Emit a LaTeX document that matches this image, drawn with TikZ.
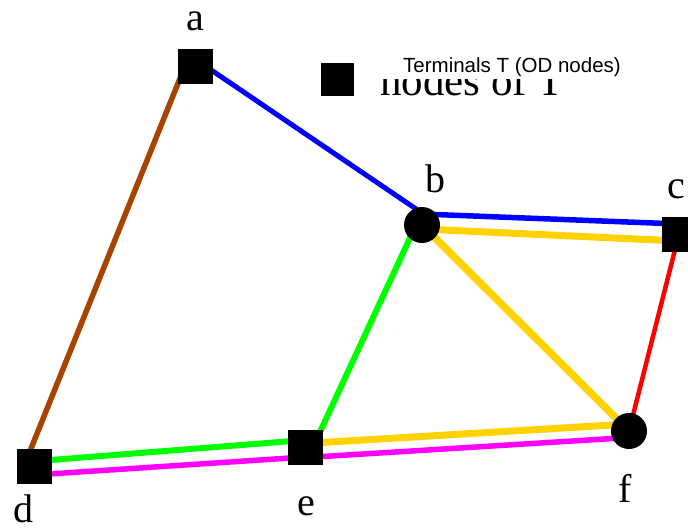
\documentclass[tikz,border=0pt]{standalone}
\usepackage{fontspec}
\setmainfont{Liberation Serif}
\newfontfamily\legendfont{Liberation Sans}
\usetikzlibrary{backgrounds}
\definecolor{edgebrown}{RGB}{166,68,0}
\definecolor{edgeyellow}{RGB}{255,210,0}
\definecolor{edgegreen}{RGB}{0,255,0}
\definecolor{edgeblue}{RGB}{0,0,255}
\definecolor{edgered}{RGB}{255,0,0}
\definecolor{edgemagenta}{RGB}{255,0,255}
\begin{document}
\begin{tikzpicture}[x=1pt,y=-1pt,
  term/.style={rectangle,fill=black,draw=black,minimum size=34pt,inner sep=0pt},
  hub/.style={circle,fill=black,minimum size=36pt,inner sep=0pt},
  lab/.style={font=\fontsize{40}{40}\selectfont,anchor=base,inner sep=0pt},
  link/.style={line cap=butt,line join=round}]
\useasboundingbox (0,0) rectangle (688,528);
\clip (0,0) rectangle (688,528);
% nodes
\node[term] (a) at (195,66) {};
\node[hub]  (b) at (422,225) {};
\node[term] (c) at (679,234) {};
\node[term] (d) at (34,466) {};
\node[term] (e) at (305,447) {};
\node[hub]  (f) at (629,431) {};
% labels
\node[lab] (la) at (195,30) {a};
\node[lab] (lb) at (435,192) {b};
\node[lab] (lc) at (676,198) {c};
\node[lab] (ld) at (23,522) {d};
\node[lab] (le) at (306,515) {e};
\node[lab] (lf) at (625,502) {f};
% legend
\node[term,minimum size=32pt] (legsq) at (337,79) {};
\begin{scope}
  \clip (370,79) rectangle (600,105);
  \node[anchor=base west,inner sep=0pt,font=\fontsize{43}{43}\selectfont] (oldlegend) at (380,95) {nodes of T};
\end{scope}
\node[anchor=base west,inner sep=0pt,font=\legendfont\fontsize{20.5}{22}\selectfont] (legend) at (403,72) {Terminals T (OD nodes)};
% edges
\begin{pgfonlayer}{background}
\draw[link,edgeblue,line width=5pt] ([yshift=7pt]a.center) -- ([yshift=12pt]b.center);
\draw[link,edgebrown,line width=5.5pt] ([xshift=-10pt]a.center) -- ([xshift=-10pt]d.center);
\draw[link,edgeblue,line width=5.5pt] ([yshift=11pt]b.center) -- ([yshift=10pt]c.center);
\draw[link,edgeyellow,line width=7pt] ([yshift=-4pt]b.center) -- ([yshift=-7pt]c.center);
\draw[link,edgegreen,line width=6pt] ([xshift=-6pt]b.center) -- ([xshift=8pt]e.center);
\draw[link,edgeyellow,line width=7.5pt] (b.center) -- (f.center);
\draw[link,edgered,line width=4.5pt] (c.center) -- (f.center);
\draw[link,edgegreen,line width=6pt] ([yshift=4.7pt]d.center) -- ([yshift=7pt]e.center);
\draw[link,edgemagenta,line width=5.5pt] ([yshift=-9pt]d.center) -- ([yshift=-10pt]e.center);
\draw[link,edgeyellow,line width=7pt] ([yshift=3.5pt]e.center) -- ([yshift=7pt]f.center);
\draw[link,edgemagenta,line width=5.5pt] ([yshift=-10.6pt]e.center) -- ([yshift=-6.5pt]f.center);
\end{pgfonlayer}
\end{tikzpicture}
\end{document}
